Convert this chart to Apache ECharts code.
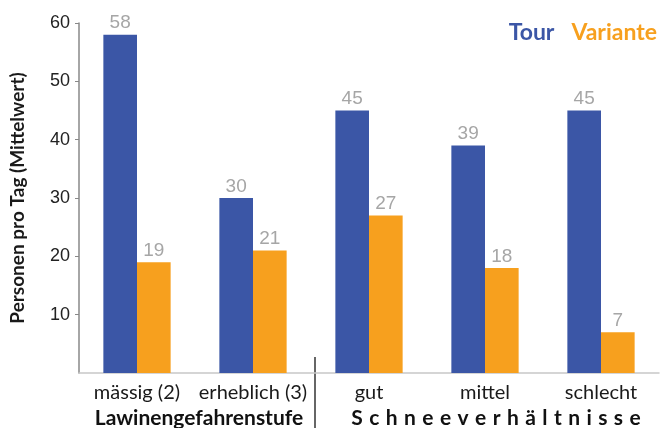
<!DOCTYPE html>
<html><head><meta charset="utf-8">
<script src="https://cdn.jsdelivr.net/npm/echarts@6/dist/echarts.min.js"></script>
<style>html,body{margin:0;padding:0;background:#fff}#c{width:668px;height:428px}</style>
</head><body><div id="c"></div>
<script>
var categories = ['mässig (2)', 'erheblich (3)', 'gut', 'mittel', 'schlecht'];
var tourValues = [58, 30, 45, 39, 45];
var varianteValues = [19, 21, 27, 18, 7];
var yTicks = [10, 20, 30, 40, 50, 60];
var groupNames = ['Lawinengefahrenstufe', 'S\u200A c\u200A h\u200A n\u200A e\u200A e\u200A v\u200A e\u200A r\u200A h\u200A ä\u200A l\u200A t\u200A n\u200A i\u200A s\u200A s\u200A e'];
var groupSpans = [[0, 1], [2, 4]];

var BLUE = '#3b56a6', ORANGE = '#f7a01e';
var FONT = 'Lato';
var chart = echarts.init(document.getElementById('c'));
var valLabel = {show: true, position: 'top', distance: 2, color: '#a6a6a6', fontSize: 19, fontFamily: 'Liberation Sans'};
chart.setOption({
  animation: false,
  grid: {left: 76, right: 9, top: 23, bottom: 55},
  legend: {
    right: 6, top: 16, icon: 'none', itemGap: 12, itemWidth: 0,
    textStyle: {fontSize: 23, fontWeight: 'bold', fontFamily: FONT},
    data: [{name: 'Tour', textStyle: {color: BLUE}}, {name: 'Variante', textStyle: {color: ORANGE}}]
  },
  xAxis: {
    type: 'category', data: categories,
    axisLine: {lineStyle: {color: '#c8c8c8', width: 1.5}},
    axisTick: {show: false},
    axisLabel: {color: '#1a1a1a', fontSize: 20, fontFamily: FONT, margin: 10, interval: 0, hideOverlap: false}
  },
  yAxis: {
    type: 'value', min: 0, max: 60, interval: 10,
    name: 'Personen pro Tag (Mittelwert)', nameLocation: 'middle', nameGap: 52,
    nameTextStyle: {fontSize: 19, fontWeight: 'bold', color: '#1a1a1a', fontFamily: FONT},
    axisLine: {show: true, lineStyle: {color: '#888', width: 1.5}},
    axisTick: {show: true, length: 4, lineStyle: {color: '#888'}, customValues: yTicks},
    splitLine: {show: false},
    axisLabel: {color: '#222', fontSize: 18, fontFamily: 'Liberation Sans', margin: 9, customValues: yTicks}
  },
  series: [
    {name: 'Tour', type: 'bar', data: tourValues, barGap: '0%', barCategoryGap: '42%',
     itemStyle: {color: BLUE}, label: valLabel},
    {name: 'Variante', type: 'bar', data: varianteValues,
     itemStyle: {color: ORANGE}, label: valLabel}
  ]
});

var g = [];
var half = (chart.convertToPixel({xAxisIndex: 0}, 1) - chart.convertToPixel({xAxisIndex: 0}, 0)) / 2;
var baseY = chart.convertToPixel({yAxisIndex: 0}, 0);
groupSpans.forEach(function (s, i) {
  var x0 = chart.convertToPixel({xAxisIndex: 0}, s[0]) - half;
  var x1 = chart.convertToPixel({xAxisIndex: 0}, s[1]) + half;
  g.push({type: 'text', x: (x0 + x1) / 2 + (i === 0 ? 4 : 11), y: baseY + 45, style: {
    text: groupNames[i], fill: '#111', font: 'bold 21px ' + FONT,
    textAlign: 'center', textVerticalAlign: 'middle'}});
});
var xd = chart.convertToPixel({xAxisIndex: 0}, 2) - half + 4;
g.push({type: 'line', shape: {x1: xd, y1: baseY - 16, x2: xd, y2: 428}, style: {stroke: '#333', lineWidth: 1.5}});
chart.setOption({graphic: g});
</script></body></html>
